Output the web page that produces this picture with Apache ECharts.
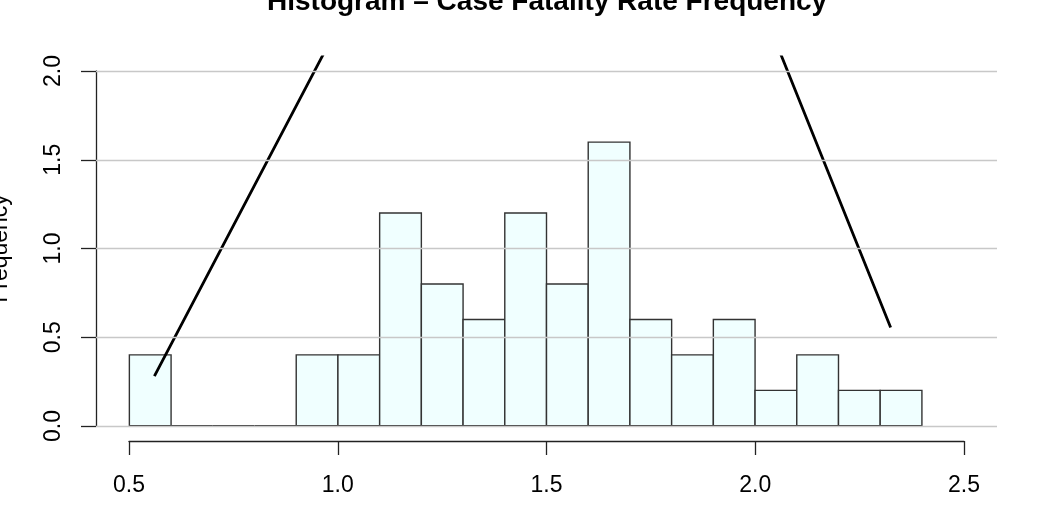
<!DOCTYPE html>
<html>
<head>
<meta charset="utf-8">
<script src="https://cdn.jsdelivr.net/npm/echarts@6/dist/echarts.min.js"></script>
<style>
html,body{margin:0;padding:0;background:#fff;}
#chart{width:1047px;height:517px;}
</style>
</head>
<body>
<div id="chart"></div>
<script>
// ---- data ----
var binStarts = [0.5,0.6,0.7,0.8,0.9,1.0,1.1,1.2,1.3,1.4,1.5,1.6,1.7,1.8,1.9,2.0,2.1,2.2,2.3];
var binEnds   = [0.6,0.7,0.8,0.9,1.0,1.1,1.2,1.3,1.4,1.5,1.6,1.7,1.8,1.9,2.0,2.1,2.2,2.3,2.4];
var frequencies = [0.4,0,0,0,0.4,0.4,1.2,0.8,0.6,1.2,0.8,1.6,0.6,0.4,0.6,0.2,0.4,0.2,0.2];
var curveX = [0.56, 1.586, 2.325];
var curveY = [0.28, 4.88, 0.554];
var gridLevels = [0, 0.5, 1.0, 1.5, 2.0];
var xTickLabels = ['0.5','1.0','1.5','2.0','2.5'];
var yTickLabels = ['0.0','0.5','1.0','1.5','2.0'];
var titleText = 'Histogram \u2013 Case Fatality Rate Frequency';
var yName = 'Frequency';

var FONT = '"Liberation Sans", Arial, Helvetica, sans-serif';

var barData = binStarts.map(function (s, i) { return [s, binEnds[i], frequencies[i]]; });
var curveData = curveX.map(function (x, i) { return [x, curveY[i]]; });

function fmtX(v) { var i = Math.round((v - 0.5) / 0.5); return xTickLabels[i] !== undefined ? xTickLabels[i] : ''; }
function fmtY(v) { var i = Math.round(v / 0.5); return yTickLabels[i] !== undefined ? yTickLabels[i] : ''; }

var chart = echarts.init(document.getElementById('chart'), null, {renderer: 'canvas'});
chart.setOption({
  animation: false,
  backgroundColor: '#ffffff',
  title: {
    text: titleText,
    left: 267, top: -12, padding: 0,
    textStyle: {fontFamily: FONT, fontSize: 28, fontWeight: 'bold', color: '#000', lineHeight: 28}
  },
  grid: [
    {left: 96, right: 50, top: 57, bottom: 77, containLabel: false, outerBoundsMode: 'none'},
    {left: 129, right: 83, top: 71, bottom: 91, containLabel: false, outerBoundsMode: 'none'}
  ],
  xAxis: [
    {type: 'value', gridIndex: 0, min: 0.42, max: 2.58, show: false},
    {type: 'value', gridIndex: 1, min: 0.5, max: 2.5, interval: 0.5, position: 'bottom', offset: 15,
     axisLine: {show: true, onZero: false, lineStyle: {color: '#222', width: 1.3}},
     axisTick: {show: true, length: 14, lineStyle: {color: '#222', width: 1.3}},
     axisLabel: {show: true, margin: 33, fontFamily: FONT, fontSize: 23, color: '#000', formatter: fmtX},
     splitLine: {show: false}}
  ],
  yAxis: [
    {type: 'value', gridIndex: 0, min: -0.08, max: 2.08, show: false},
    {type: 'value', gridIndex: 1, min: 0, max: 2, interval: 0.5, position: 'left', offset: 33,
     name: yName, nameLocation: 'middle', nameRotate: 90, nameGap: 84,
     nameTextStyle: {fontFamily: FONT, fontSize: 23, color: '#000'},
     axisLine: {show: true, onZero: false, lineStyle: {color: '#222', width: 1.3}},
     axisTick: {show: true, length: 15, lineStyle: {color: '#222', width: 1.3}},
     axisLabel: {show: true, rotate: 90, margin: 31, fontFamily: FONT, fontSize: 23, color: '#000', formatter: fmtY},
     splitLine: {show: false}}
  ],
  series: [
    {
      type: 'custom',
      xAxisIndex: 0, yAxisIndex: 0,
      data: barData,
      z: 2,
      renderItem: function (params, api) {
        var p0 = api.coord([api.value(0), api.value(2)]);
        var p1 = api.coord([api.value(1), 0]);
        return {
          type: 'rect',
          shape: {x: p0[0], y: p0[1], width: p1[0] - p0[0], height: p1[1] - p0[1]},
          style: {fill: '#F0FFFF', stroke: '#333333', lineWidth: 1.4}
        };
      }
    },
    {
      type: 'line',
      xAxisIndex: 0, yAxisIndex: 0,
      data: [],
      z: 3,
      silent: true,
      markLine: {
        silent: true,
        symbol: ['none', 'none'],
        label: {show: false},
        lineStyle: {color: '#c8c8c8', width: 1.3, type: 'solid'},
        data: gridLevels.map(function (v) { return {yAxis: v}; })
      }
    },
    {
      type: 'line',
      xAxisIndex: 0, yAxisIndex: 0,
      data: curveData,
      z: 4,
      clip: true,
      showSymbol: false,
      symbol: 'none',
      lineStyle: {color: '#000', width: 2.8}
    }
  ]
});
</script>
</body>
</html>
